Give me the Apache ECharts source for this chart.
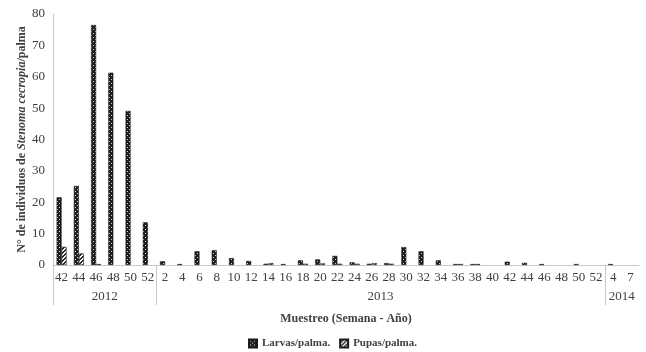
<!DOCTYPE html>
<html><head><meta charset="utf-8">
<script src="https://cdn.jsdelivr.net/npm/echarts@6/dist/echarts.min.js"></script>
<style>html,body{margin:0;padding:0;background:#fff}#c{width:646px;height:352px}</style>
</head><body><div id="c"></div>
<script>
const weeks = ['42','44','46','48','50','52',
  '2','4','6','8','10','12','14','16','18','20','22','24','26','28','30','32','34','36','38','40','42','44','46','48','50','52',
  '4','7'];
const yearLabels = ['2012','2013','2014'];
const yearSpans = [6, 26, 2];
const larvas = [21.6, 25.2, 76.5, 61.3, 49.1, 13.6,
  1.2, 0.3, 4.4, 4.7, 2.2, 1.3, 0.4, 0.3, 1.5, 1.8, 2.9, 0.85, 0.4, 0.6, 5.7, 4.4, 1.5, 0.3, 0.3, 0, 1.05, 0.7, 0.3, 0, 0.3, 0,
  0.3, 0];
const pupas = [5.8, 3.7, 0.3, 0, 0, 0,
  0, 0, 0, 0, 0, 0, 0.6, 0, 0.4, 0.5, 0.4, 0.4, 0.6, 0.4, 0, 0, 0, 0.3, 0.3, 0, 0, 0, 0, 0, 0, 0,
  0, 0];
const yTicks = {min: 0, max: 80, interval: 10};

function pattern(kind) {
  const c = document.createElement('canvas');
  c.width = 4; c.height = 4;
  const g = c.getContext('2d');
  if (kind === 'dots') {
    g.fillStyle = '#1e1e1e'; g.fillRect(0, 0, 4, 4);
    g.fillStyle = '#d8d8d8';
    g.fillRect(1, 1, 1, 1); g.fillRect(3, 3, 1, 1);
  } else {
    g.fillStyle = '#ffffff'; g.fillRect(0, 0, 4, 4);
    g.fillStyle = '#262626';
    for (let x = 0; x < 4; x++) for (let y = 0; y < 4; y++) {
      if ((x + y) % 4 === 3 || (x + y) % 4 === 2) g.fillRect(x, y, 1, 1);
    }
  }
  return {image: c, repeat: 'repeat'};
}
// zero values are not drawn in the reference
const hideZero = arr => arr.map(v => (v === 0 ? '-' : v));

const font = 'Liberation Serif';
const txt = '#404040';
const axisGray = '#c8c8c8';
const chart = echarts.init(document.getElementById('c'), null, {renderer: 'canvas'});
chart.setOption({
  animation: false,
  textStyle: {fontFamily: font},
  grid: {left: 53, right: 7, top: 14, bottom: 87, containLabel: false},
  legend: {
    top: 333, left: 243, itemWidth: 8, itemHeight: 8, itemGap: 9, icon: 'rect',
    textStyle: {fontFamily: font, fontWeight: 'bold', fontSize: 11, color: txt},
    data: ['Larvas/palma.', 'Pupas/palma.']
  },
  xAxis: {
    type: 'category', data: weeks,
    axisLine: {lineStyle: {color: axisGray, width: 1}},
    axisTick: {show: false},
    axisLabel: {interval: 0, fontFamily: font, fontSize: 13, color: txt, margin: 6},
    name: 'Muestreo (Semana - Año)', nameLocation: 'middle', nameGap: 48,
    nameTextStyle: {fontFamily: font, fontWeight: 'bold', fontSize: 12, color: txt}
  },
  yAxis: {
    type: 'value', min: yTicks.min, max: yTicks.max, interval: yTicks.interval,
    axisLine: {show: true, lineStyle: {color: axisGray, width: 1}},
    axisTick: {show: false},
    splitLine: {show: false},
    axisLabel: {fontFamily: font, fontSize: 13, color: txt, margin: 8},
    name: '{a|N° de individuos de }{b|Stenoma cecropia}{a|/palma}',
    nameLocation: 'middle', nameGap: 25, nameRotate: 90, nameMoveOverlap: false,
    nameTextStyle: {
      rich: {
        a: {fontFamily: font, fontWeight: 'bold', fontSize: 12, color: txt},
        b: {fontFamily: font, fontWeight: 'bold', fontStyle: 'italic', fontSize: 12, color: txt}
      }
    }
  },
  series: [
    {name: 'Larvas/palma.', type: 'bar', data: hideZero(larvas), barWidth: 5, barGap: '0%',
     itemStyle: {color: pattern('dots'), borderColor: '#1a1a1a', borderWidth: 0.6}},
    {name: 'Pupas/palma.', type: 'bar', data: hideZero(pupas), barWidth: 5, barGap: '0%',
     itemStyle: {color: pattern('hatch'), borderColor: '#1a1a1a', borderWidth: 0.6}}
  ]
});

// multi-level category axis: year separators and year labels
const c0 = chart.convertToPixel({xAxisIndex: 0}, 0);
const c1 = chart.convertToPixel({xAxisIndex: 0}, 1);
const band = c1 - c0;
const yAxis0 = chart.convertToPixel({yAxisIndex: 0}, 0);
const graphics = [];
let idx = 0;
const boundaries = [c0 - band / 2];
yearSpans.forEach((n, k) => {
  const start = c0 - band / 2 + idx * band;
  const end = start + n * band;
  boundaries.push(end);
  graphics.push({type: 'text', x: (start + end) / 2, y: yAxis0 + 32,
    style: {text: yearLabels[k], fill: txt, font: '13px "' + font + '"', align: 'center', verticalAlign: 'middle'}});
  idx += n;
});
boundaries.slice(0, boundaries.length - 1).forEach(bx => {
  graphics.push({type: 'line', shape: {x1: Math.round(bx) + 0.5, y1: yAxis0, x2: Math.round(bx) + 0.5, y2: yAxis0 + 40},
    style: {stroke: axisGray, lineWidth: 1}});
});
chart.setOption({graphic: graphics});
</script>
</body></html>
